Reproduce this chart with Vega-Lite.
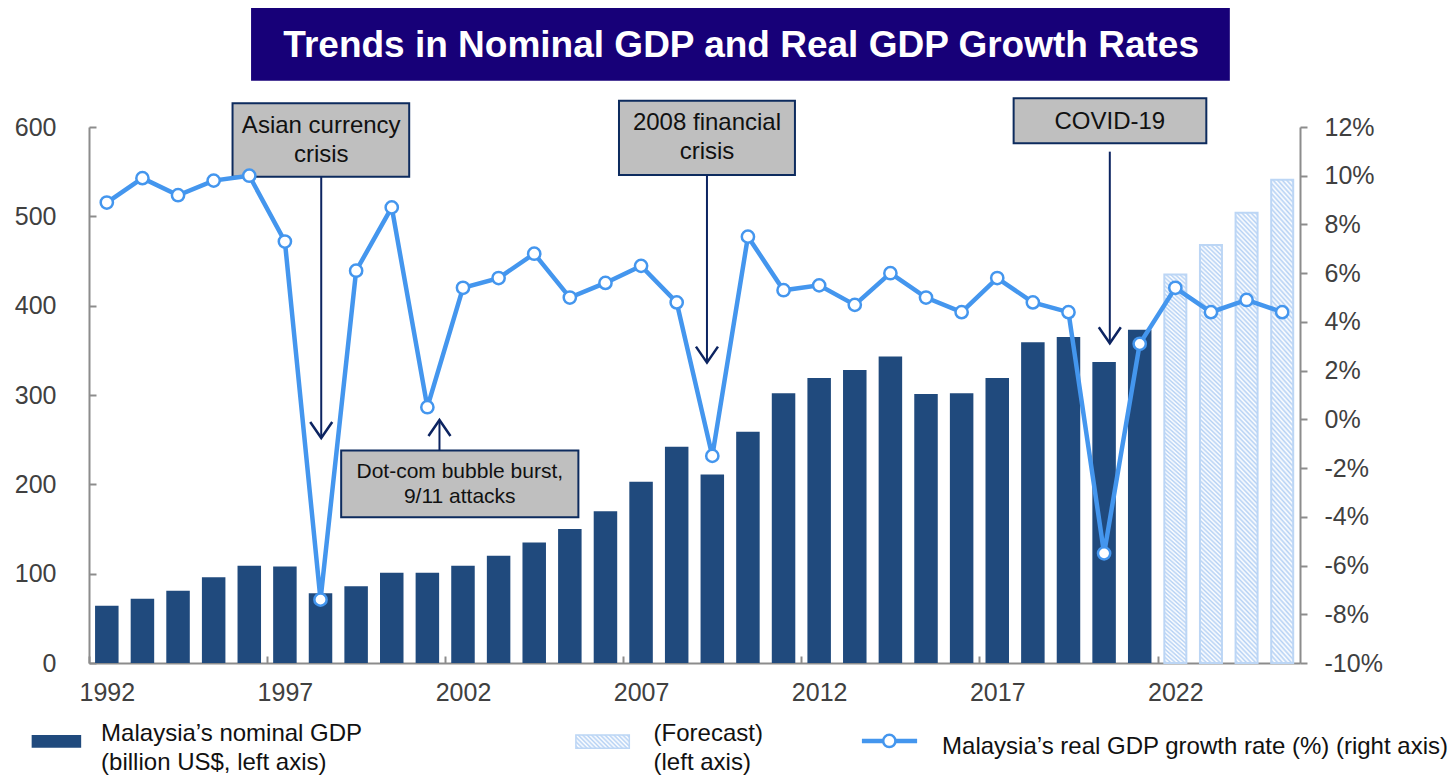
{
  "$schema": "https://vega.github.io/schema/vega-lite/v6.json",
  "width": 1211,
  "height": 536,
  "autosize": {"type": "none"},
  "padding": {"left": 89, "top": 127, "right": 152, "bottom": 112},
  "background": "white",
  "config": {
    "view": {"stroke": null},
    "font": "Liberation Sans",
    "scale": {"continuousPadding": 0},
    "axis": {
      "grid": false,
      "domainColor": "#8c8c8c",
      "domainWidth": 2,
      "tickColor": "#8c8c8c",
      "tickWidth": 2,
      "labelColor": "#404040",
      "labelFont": "Liberation Sans",
      "labelFontSize": 25
    }
  },
  "data": {
    "values": [
      {"year": 1992, "gdp": 64, "growth": 8.9, "type": "Actual"},
      {"year": 1993, "gdp": 72, "growth": 9.9, "type": "Actual"},
      {"year": 1994, "gdp": 81, "growth": 9.2, "type": "Actual"},
      {"year": 1995, "gdp": 96, "growth": 9.8, "type": "Actual"},
      {"year": 1996, "gdp": 109, "growth": 10.0, "type": "Actual"},
      {"year": 1997, "gdp": 108, "growth": 7.3, "type": "Actual"},
      {"year": 1998, "gdp": 78, "growth": -7.4, "type": "Actual"},
      {"year": 1999, "gdp": 86, "growth": 6.1, "type": "Actual"},
      {"year": 2000, "gdp": 101, "growth": 8.7, "type": "Actual"},
      {"year": 2001, "gdp": 101, "growth": 0.5, "type": "Actual"},
      {"year": 2002, "gdp": 109, "growth": 5.4, "type": "Actual"},
      {"year": 2003, "gdp": 120, "growth": 5.8, "type": "Actual"},
      {"year": 2004, "gdp": 135, "growth": 6.8, "type": "Actual"},
      {"year": 2005, "gdp": 150, "growth": 5.0, "type": "Actual"},
      {"year": 2006, "gdp": 170, "growth": 5.6, "type": "Actual"},
      {"year": 2007, "gdp": 203, "growth": 6.3, "type": "Actual"},
      {"year": 2008, "gdp": 242, "growth": 4.8, "type": "Actual"},
      {"year": 2009, "gdp": 211, "growth": -1.5, "type": "Actual"},
      {"year": 2010, "gdp": 259, "growth": 7.5, "type": "Actual"},
      {"year": 2011, "gdp": 302, "growth": 5.3, "type": "Actual"},
      {"year": 2012, "gdp": 319, "growth": 5.5, "type": "Actual"},
      {"year": 2013, "gdp": 328, "growth": 4.7, "type": "Actual"},
      {"year": 2014, "gdp": 343, "growth": 6.0, "type": "Actual"},
      {"year": 2015, "gdp": 301, "growth": 5.0, "type": "Actual"},
      {"year": 2016, "gdp": 302, "growth": 4.4, "type": "Actual"},
      {"year": 2017, "gdp": 319, "growth": 5.8, "type": "Actual"},
      {"year": 2018, "gdp": 359, "growth": 4.8, "type": "Actual"},
      {"year": 2019, "gdp": 365, "growth": 4.4, "type": "Actual"},
      {"year": 2020, "gdp": 337, "growth": -5.5, "type": "Actual"},
      {"year": 2021, "gdp": 373, "growth": 3.1, "type": "Actual"},
      {"year": 2022, "gdp": 435, "growth": 5.4, "type": "Forecast"},
      {"year": 2023, "gdp": 468, "growth": 4.4, "type": "Forecast"},
      {"year": 2024, "gdp": 504, "growth": 4.9, "type": "Forecast"},
      {"year": 2025, "gdp": 541, "growth": 4.4, "type": "Forecast"}
    ]
  },
  "layer": [
    {
      "layer": [
        {
          "transform": [{"filter": "datum.type == 'Actual'"}],
          "mark": {"type": "bar", "width": 23.5, "fill": "#204a7d"},
          "encoding": {
            "x": {
              "field": "year", "type": "quantitative", "title": null,
              "scale": {"domain": [1991.5, 2025.5], "nice": false, "zero": false, "padding": 0},
              "axis": {
                "values": [1992, 1997, 2002, 2007, 2012, 2017, 2022],
                "format": "d",
                "tickSize": -7,
                "tickOffset": -17.8,
                "labelOffset": 17.8,
                "labelPadding": 24,
                "labelFlush": false
              }
            },
            "y": {
              "field": "gdp", "type": "quantitative", "title": null,
              "scale": {"domain": [0, 600], "nice": false, "padding": 0},
              "axis": {
                "values": [0, 100, 200, 300, 400, 500, 600],
                "tickSize": -7,
                "labelPadding": 40
              }
            }
          }
        },
        {
          "transform": [{"filter": "datum.type == 'Forecast'"}],
          "mark": {
            "type": "bar", "width": 22, "stroke": "#bcd6f5", "strokeWidth": 2,
            "fill": {
              "gradient": "linear", "x1": 1, "y1": 0, "x2": 0.947, "y2": 1.0479,
              "stops": [
                {"offset": 0, "color": "#ffffff"}, {"offset": 0.005, "color": "#b5d1f4"},
                {"offset": 0.01, "color": "#ffffff"}, {"offset": 0.015, "color": "#b5d1f4"},
                {"offset": 0.02, "color": "#ffffff"}, {"offset": 0.025, "color": "#b5d1f4"},
                {"offset": 0.03, "color": "#ffffff"}, {"offset": 0.035, "color": "#b5d1f4"},
                {"offset": 0.04, "color": "#ffffff"}, {"offset": 0.045, "color": "#b5d1f4"},
                {"offset": 0.05, "color": "#ffffff"}, {"offset": 0.055, "color": "#b5d1f4"},
                {"offset": 0.06, "color": "#ffffff"}, {"offset": 0.065, "color": "#b5d1f4"},
                {"offset": 0.07, "color": "#ffffff"}, {"offset": 0.075, "color": "#b5d1f4"},
                {"offset": 0.08, "color": "#ffffff"}, {"offset": 0.085, "color": "#b5d1f4"},
                {"offset": 0.09, "color": "#ffffff"}, {"offset": 0.095, "color": "#b5d1f4"},
                {"offset": 0.10, "color": "#ffffff"}, {"offset": 0.105, "color": "#b5d1f4"},
                {"offset": 0.11, "color": "#ffffff"}, {"offset": 0.115, "color": "#b5d1f4"},
                {"offset": 0.12, "color": "#ffffff"}, {"offset": 0.125, "color": "#b5d1f4"},
                {"offset": 0.13, "color": "#ffffff"}, {"offset": 0.135, "color": "#b5d1f4"},
                {"offset": 0.14, "color": "#ffffff"}, {"offset": 0.145, "color": "#b5d1f4"},
                {"offset": 0.15, "color": "#ffffff"}, {"offset": 0.155, "color": "#b5d1f4"},
                {"offset": 0.16, "color": "#ffffff"}, {"offset": 0.165, "color": "#b5d1f4"},
                {"offset": 0.17, "color": "#ffffff"}, {"offset": 0.175, "color": "#b5d1f4"},
                {"offset": 0.18, "color": "#ffffff"}, {"offset": 0.185, "color": "#b5d1f4"},
                {"offset": 0.19, "color": "#ffffff"}, {"offset": 0.195, "color": "#b5d1f4"},
                {"offset": 0.20, "color": "#ffffff"}, {"offset": 0.205, "color": "#b5d1f4"},
                {"offset": 0.21, "color": "#ffffff"}, {"offset": 0.215, "color": "#b5d1f4"},
                {"offset": 0.22, "color": "#ffffff"}, {"offset": 0.225, "color": "#b5d1f4"},
                {"offset": 0.23, "color": "#ffffff"}, {"offset": 0.235, "color": "#b5d1f4"},
                {"offset": 0.24, "color": "#ffffff"}, {"offset": 0.245, "color": "#b5d1f4"},
                {"offset": 0.25, "color": "#ffffff"}, {"offset": 0.255, "color": "#b5d1f4"},
                {"offset": 0.26, "color": "#ffffff"}, {"offset": 0.265, "color": "#b5d1f4"},
                {"offset": 0.27, "color": "#ffffff"}, {"offset": 0.275, "color": "#b5d1f4"},
                {"offset": 0.28, "color": "#ffffff"}, {"offset": 0.285, "color": "#b5d1f4"},
                {"offset": 0.29, "color": "#ffffff"}, {"offset": 0.295, "color": "#b5d1f4"},
                {"offset": 0.30, "color": "#ffffff"}, {"offset": 0.305, "color": "#b5d1f4"},
                {"offset": 0.31, "color": "#ffffff"}, {"offset": 0.315, "color": "#b5d1f4"},
                {"offset": 0.32, "color": "#ffffff"}, {"offset": 0.325, "color": "#b5d1f4"},
                {"offset": 0.33, "color": "#ffffff"}, {"offset": 0.335, "color": "#b5d1f4"},
                {"offset": 0.34, "color": "#ffffff"}, {"offset": 0.345, "color": "#b5d1f4"},
                {"offset": 0.35, "color": "#ffffff"}, {"offset": 0.355, "color": "#b5d1f4"},
                {"offset": 0.36, "color": "#ffffff"}, {"offset": 0.365, "color": "#b5d1f4"},
                {"offset": 0.37, "color": "#ffffff"}, {"offset": 0.375, "color": "#b5d1f4"},
                {"offset": 0.38, "color": "#ffffff"}, {"offset": 0.385, "color": "#b5d1f4"},
                {"offset": 0.39, "color": "#ffffff"}, {"offset": 0.395, "color": "#b5d1f4"},
                {"offset": 0.40, "color": "#ffffff"}, {"offset": 0.405, "color": "#b5d1f4"},
                {"offset": 0.41, "color": "#ffffff"}, {"offset": 0.415, "color": "#b5d1f4"},
                {"offset": 0.42, "color": "#ffffff"}, {"offset": 0.425, "color": "#b5d1f4"},
                {"offset": 0.43, "color": "#ffffff"}, {"offset": 0.435, "color": "#b5d1f4"},
                {"offset": 0.44, "color": "#ffffff"}, {"offset": 0.445, "color": "#b5d1f4"},
                {"offset": 0.45, "color": "#ffffff"}, {"offset": 0.455, "color": "#b5d1f4"},
                {"offset": 0.46, "color": "#ffffff"}, {"offset": 0.465, "color": "#b5d1f4"},
                {"offset": 0.47, "color": "#ffffff"}, {"offset": 0.475, "color": "#b5d1f4"},
                {"offset": 0.48, "color": "#ffffff"}, {"offset": 0.485, "color": "#b5d1f4"},
                {"offset": 0.49, "color": "#ffffff"}, {"offset": 0.495, "color": "#b5d1f4"},
                {"offset": 0.50, "color": "#ffffff"}, {"offset": 0.505, "color": "#b5d1f4"},
                {"offset": 0.51, "color": "#ffffff"}, {"offset": 0.515, "color": "#b5d1f4"},
                {"offset": 0.52, "color": "#ffffff"}, {"offset": 0.525, "color": "#b5d1f4"},
                {"offset": 0.53, "color": "#ffffff"}, {"offset": 0.535, "color": "#b5d1f4"},
                {"offset": 0.54, "color": "#ffffff"}, {"offset": 0.545, "color": "#b5d1f4"},
                {"offset": 0.55, "color": "#ffffff"}, {"offset": 0.555, "color": "#b5d1f4"},
                {"offset": 0.56, "color": "#ffffff"}, {"offset": 0.565, "color": "#b5d1f4"},
                {"offset": 0.57, "color": "#ffffff"}, {"offset": 0.575, "color": "#b5d1f4"},
                {"offset": 0.58, "color": "#ffffff"}, {"offset": 0.585, "color": "#b5d1f4"},
                {"offset": 0.59, "color": "#ffffff"}, {"offset": 0.595, "color": "#b5d1f4"},
                {"offset": 0.60, "color": "#ffffff"}, {"offset": 0.605, "color": "#b5d1f4"},
                {"offset": 0.61, "color": "#ffffff"}, {"offset": 0.615, "color": "#b5d1f4"},
                {"offset": 0.62, "color": "#ffffff"}, {"offset": 0.625, "color": "#b5d1f4"},
                {"offset": 0.63, "color": "#ffffff"}, {"offset": 0.635, "color": "#b5d1f4"},
                {"offset": 0.64, "color": "#ffffff"}, {"offset": 0.645, "color": "#b5d1f4"},
                {"offset": 0.65, "color": "#ffffff"}, {"offset": 0.655, "color": "#b5d1f4"},
                {"offset": 0.66, "color": "#ffffff"}, {"offset": 0.665, "color": "#b5d1f4"},
                {"offset": 0.67, "color": "#ffffff"}, {"offset": 0.675, "color": "#b5d1f4"},
                {"offset": 0.68, "color": "#ffffff"}, {"offset": 0.685, "color": "#b5d1f4"},
                {"offset": 0.69, "color": "#ffffff"}, {"offset": 0.695, "color": "#b5d1f4"},
                {"offset": 0.70, "color": "#ffffff"}, {"offset": 0.705, "color": "#b5d1f4"},
                {"offset": 0.71, "color": "#ffffff"}, {"offset": 0.715, "color": "#b5d1f4"},
                {"offset": 0.72, "color": "#ffffff"}, {"offset": 0.725, "color": "#b5d1f4"},
                {"offset": 0.73, "color": "#ffffff"}, {"offset": 0.735, "color": "#b5d1f4"},
                {"offset": 0.74, "color": "#ffffff"}, {"offset": 0.745, "color": "#b5d1f4"},
                {"offset": 0.75, "color": "#ffffff"}, {"offset": 0.755, "color": "#b5d1f4"},
                {"offset": 0.76, "color": "#ffffff"}, {"offset": 0.765, "color": "#b5d1f4"},
                {"offset": 0.77, "color": "#ffffff"}, {"offset": 0.775, "color": "#b5d1f4"},
                {"offset": 0.78, "color": "#ffffff"}, {"offset": 0.785, "color": "#b5d1f4"},
                {"offset": 0.79, "color": "#ffffff"}, {"offset": 0.795, "color": "#b5d1f4"},
                {"offset": 0.80, "color": "#ffffff"}, {"offset": 0.805, "color": "#b5d1f4"},
                {"offset": 0.81, "color": "#ffffff"}, {"offset": 0.815, "color": "#b5d1f4"},
                {"offset": 0.82, "color": "#ffffff"}, {"offset": 0.825, "color": "#b5d1f4"},
                {"offset": 0.83, "color": "#ffffff"}, {"offset": 0.835, "color": "#b5d1f4"},
                {"offset": 0.84, "color": "#ffffff"}, {"offset": 0.845, "color": "#b5d1f4"},
                {"offset": 0.85, "color": "#ffffff"}, {"offset": 0.855, "color": "#b5d1f4"},
                {"offset": 0.86, "color": "#ffffff"}, {"offset": 0.865, "color": "#b5d1f4"},
                {"offset": 0.87, "color": "#ffffff"}, {"offset": 0.875, "color": "#b5d1f4"},
                {"offset": 0.88, "color": "#ffffff"}, {"offset": 0.885, "color": "#b5d1f4"},
                {"offset": 0.89, "color": "#ffffff"}, {"offset": 0.895, "color": "#b5d1f4"},
                {"offset": 0.90, "color": "#ffffff"}, {"offset": 0.905, "color": "#b5d1f4"},
                {"offset": 0.91, "color": "#ffffff"}, {"offset": 0.915, "color": "#b5d1f4"},
                {"offset": 0.92, "color": "#ffffff"}, {"offset": 0.925, "color": "#b5d1f4"},
                {"offset": 0.93, "color": "#ffffff"}, {"offset": 0.935, "color": "#b5d1f4"},
                {"offset": 0.94, "color": "#ffffff"}, {"offset": 0.945, "color": "#b5d1f4"},
                {"offset": 0.95, "color": "#ffffff"}, {"offset": 0.955, "color": "#b5d1f4"},
                {"offset": 0.96, "color": "#ffffff"}, {"offset": 0.965, "color": "#b5d1f4"},
                {"offset": 0.97, "color": "#ffffff"}, {"offset": 0.975, "color": "#b5d1f4"},
                {"offset": 0.98, "color": "#ffffff"}, {"offset": 0.985, "color": "#b5d1f4"},
                {"offset": 0.99, "color": "#ffffff"}, {"offset": 0.995, "color": "#b5d1f4"},
                {"offset": 1, "color": "#ffffff"}
              ]
            }
          },
          "encoding": {
            "x": {"field": "year", "type": "quantitative", "title": null},
            "y": {"field": "gdp", "type": "quantitative", "title": null}
          }
        },
        {
          "data": {"values": [{}]},
          "mark": {"type": "rect", "fill": "#170078"},
          "encoding": {"x": {"datum": 1996.05}, "x2": {"datum": 2023.53}, "y": {"datum": 733.2}, "y2": {"datum": 651.8}}
        },
        {
          "data": {"values": [{}]},
          "mark": {"type": "text", "text": "Trends in Nominal GDP and Real GDP Growth Rates", "fontSize": 37, "fontWeight": "bold", "color": "white", "align": "center", "baseline": "middle"},
          "encoding": {"x": {"datum": 2009.81}, "y": {"datum": 691.2}}
        },
        {
          "data": {"values": [{}]},
          "mark": {"type": "rect", "fill": "#bfbfbf", "stroke": "#0d2b5e", "strokeWidth": 2},
          "encoding": {"x": {"datum": 1995.53}, "x2": {"datum": 2000.49}, "y": {"datum": 626.5}, "y2": {"datum": 544.4}}
        },
        {
          "data": {"values": [{}]},
          "mark": {"type": "rect", "fill": "#bfbfbf", "stroke": "#0d2b5e", "strokeWidth": 2},
          "encoding": {"x": {"datum": 1998.58}, "x2": {"datum": 2005.24}, "y": {"datum": 237.9}, "y2": {"datum": 163.1}}
        },
        {
          "data": {"values": [{}]},
          "mark": {"type": "rect", "fill": "#bfbfbf", "stroke": "#0d2b5e", "strokeWidth": 2},
          "encoding": {"x": {"datum": 2006.38}, "x2": {"datum": 2011.32}, "y": {"datum": 629.4}, "y2": {"datum": 546.3}}
        },
        {
          "data": {"values": [{}]},
          "mark": {"type": "rect", "fill": "#bfbfbf", "stroke": "#0d2b5e", "strokeWidth": 2},
          "encoding": {"x": {"datum": 2017.46}, "x2": {"datum": 2022.87}, "y": {"datum": 632.1}, "y2": {"datum": 581.8}}
        },
        {
          "data": {"values": [{}]},
          "mark": {"type": "text", "text": ["Asian currency", "crisis"], "fontSize": 24, "lineHeight": 29, "color": "#111111", "align": "center", "baseline": "middle"},
          "encoding": {"x": {"datum": 1998.02}, "y": {"datum": 601.1}}
        },
        {
          "data": {"values": [{}]},
          "mark": {"type": "text", "text": ["Dot-com bubble burst,", "9/11 attacks"], "fontSize": 21, "lineHeight": 25, "color": "#111111", "align": "center", "baseline": "middle"},
          "encoding": {"x": {"datum": 2001.91}, "y": {"datum": 213.5}}
        },
        {
          "data": {"values": [{}]},
          "mark": {"type": "text", "text": ["2008 financial", "crisis"], "fontSize": 24, "lineHeight": 28.5, "color": "#111111", "align": "center", "baseline": "middle"},
          "encoding": {"x": {"datum": 2008.85}, "y": {"datum": 604.1}}
        },
        {
          "data": {"values": [{}]},
          "mark": {"type": "text", "text": "COVID-19", "fontSize": 24, "color": "#111111", "align": "center", "baseline": "middle"},
          "encoding": {"x": {"datum": 2020.16}, "y": {"datum": 606}}
        },
        {
          "data": {"values": [{}]},
          "mark": {"type": "rule", "stroke": "#0c2461", "strokeWidth": 2},
          "encoding": {"x": {"datum": 1998.02}, "y": {"datum": 544.4}, "y2": {"datum": 251.9}}
        },
        {
          "data": {"values": [{}]},
          "mark": {"type": "rule", "stroke": "#0c2461", "strokeWidth": 2},
          "encoding": {"x": {"datum": 2001.34}, "y": {"datum": 272.0}, "y2": {"datum": 237.9}}
        },
        {
          "data": {"values": [{}]},
          "mark": {"type": "rule", "stroke": "#0c2461", "strokeWidth": 2},
          "encoding": {"x": {"datum": 2008.85}, "y": {"datum": 546.3}, "y2": {"datum": 336.2}}
        },
        {
          "data": {"values": [{}]},
          "mark": {"type": "rule", "stroke": "#0c2461", "strokeWidth": 2},
          "encoding": {"x": {"datum": 2020.16}, "y": {"datum": 572.4}, "y2": {"datum": 357.9}}
        },
        {
          "data": {"values": [{}]},
          "mark": {"type": "point", "shape": "M -0.6875 -1 L 0 0 L 0.6875 -1", "filled": false, "size": 1024, "stroke": "#0c2461", "strokeWidth": 2.5, "opacity": 1},
          "encoding": {"x": {"datum": 1998.02}, "y": {"datum": 251.9}}
        },
        {
          "data": {"values": [{}]},
          "mark": {"type": "point", "shape": "M -0.6875 1 L 0 0 L 0.6875 1", "filled": false, "size": 1024, "stroke": "#0c2461", "strokeWidth": 2.5, "opacity": 1},
          "encoding": {"x": {"datum": 2001.34}, "y": {"datum": 272.0}}
        },
        {
          "data": {"values": [{}]},
          "mark": {"type": "point", "shape": "M -0.6875 -1 L 0 0 L 0.6875 -1", "filled": false, "size": 1024, "stroke": "#0c2461", "strokeWidth": 2.5, "opacity": 1},
          "encoding": {"x": {"datum": 2008.85}, "y": {"datum": 336.2}}
        },
        {
          "data": {"values": [{}]},
          "mark": {"type": "point", "shape": "M -0.6875 -1 L 0 0 L 0.6875 -1", "filled": false, "size": 1024, "stroke": "#0c2461", "strokeWidth": 2.5, "opacity": 1},
          "encoding": {"x": {"datum": 2020.16}, "y": {"datum": 357.9}}
        },
        {
          "data": {"values": [{}]},
          "mark": {"type": "rect", "fill": "#204a7d"},
          "encoding": {"x": {"datum": 1989.89}, "x2": {"datum": 1991.28}, "y": {"datum": -80.6}, "y2": {"datum": -94.8}}
        },
        {
          "data": {"values": [{}]},
          "mark": {"type": "text", "text": ["Malaysia’s nominal GDP", "(billion US$, left axis)"], "fontSize": 24, "lineHeight": 29, "color": "#111111", "align": "left", "baseline": "middle"},
          "encoding": {"x": {"datum": 1991.84}, "y": {"datum": -80.0}}
        },
        {
          "data": {"values": [{}]},
          "mark": {
            "type": "rect", "stroke": "#bcd6f5", "strokeWidth": 1.5,
            "fill": {
              "gradient": "linear", "x1": 1, "y1": 0, "x2": -0.176, "y2": 0.2935,
              "stops": [
                {"offset": 0, "color": "#ffffff"}, {"offset": 0.0333, "color": "#b5d1f4"},
                {"offset": 0.0667, "color": "#ffffff"}, {"offset": 0.1, "color": "#b5d1f4"},
                {"offset": 0.1333, "color": "#ffffff"}, {"offset": 0.1667, "color": "#b5d1f4"},
                {"offset": 0.2, "color": "#ffffff"}, {"offset": 0.2333, "color": "#b5d1f4"},
                {"offset": 0.2667, "color": "#ffffff"}, {"offset": 0.3, "color": "#b5d1f4"},
                {"offset": 0.3333, "color": "#ffffff"}, {"offset": 0.3667, "color": "#b5d1f4"},
                {"offset": 0.4, "color": "#ffffff"}, {"offset": 0.4333, "color": "#b5d1f4"},
                {"offset": 0.4667, "color": "#ffffff"}, {"offset": 0.5, "color": "#b5d1f4"},
                {"offset": 0.5333, "color": "#ffffff"}, {"offset": 0.5667, "color": "#b5d1f4"},
                {"offset": 0.6, "color": "#ffffff"}, {"offset": 0.6333, "color": "#b5d1f4"},
                {"offset": 0.6667, "color": "#ffffff"}, {"offset": 0.7, "color": "#b5d1f4"},
                {"offset": 0.7333, "color": "#ffffff"}, {"offset": 0.7667, "color": "#b5d1f4"},
                {"offset": 0.8, "color": "#ffffff"}, {"offset": 0.8333, "color": "#b5d1f4"},
                {"offset": 0.8667, "color": "#ffffff"}, {"offset": 0.9, "color": "#b5d1f4"},
                {"offset": 0.9333, "color": "#ffffff"}, {"offset": 0.9667, "color": "#b5d1f4"},
                {"offset": 1, "color": "#ffffff"}
              ]
            }
          },
          "encoding": {"x": {"datum": 2005.17}, "x2": {"datum": 2006.67}, "y": {"datum": -80.6}, "y2": {"datum": -95.5}}
        },
        {
          "data": {"values": [{}]},
          "mark": {"type": "text", "text": ["(Forecast)", "(left axis)"], "fontSize": 24, "lineHeight": 29, "color": "#111111", "align": "left", "baseline": "middle"},
          "encoding": {"x": {"datum": 2007.35}, "y": {"datum": -80.0}}
        },
        {
          "data": {"values": [{}]},
          "mark": {"type": "rule", "stroke": "#4496ee", "strokeWidth": 4.5},
          "encoding": {"x": {"datum": 2013.2}, "x2": {"datum": 2014.75}, "y": {"datum": -87.3}}
        },
        {
          "data": {"values": [{}]},
          "mark": {"type": "point", "shape": "circle", "filled": true, "fill": "white", "stroke": "#4496ee", "strokeWidth": 2.5, "size": 150, "opacity": 1},
          "encoding": {"x": {"datum": 2013.97}, "y": {"datum": -87.3}}
        },
        {
          "data": {"values": [{}]},
          "mark": {"type": "text", "text": "Malaysia’s real GDP growth rate (%) (right axis)", "fontSize": 24, "color": "#111111", "align": "left", "baseline": "middle"},
          "encoding": {"x": {"datum": 2015.45}, "y": {"datum": -93.7}}
        }
      ]
    },
    {
      "layer": [
        {
          "mark": {"type": "line", "stroke": "#4496ee", "strokeWidth": 4.5},
          "encoding": {
            "x": {"field": "year", "type": "quantitative", "title": null},
            "y": {
              "field": "growth", "type": "quantitative", "title": null,
              "scale": {"domain": [-10, 12], "nice": false, "zero": false, "padding": 0},
              "axis": {
                "orient": "right",
                "values": [-10, -8, -6, -4, -2, 0, 2, 4, 6, 8, 10, 12],
                "labelExpr": "datum.value + '%'",
                "tickSize": 7,
                "labelPadding": 17
              }
            }
          }
        },
        {
          "mark": {"type": "point", "shape": "circle", "filled": true, "fill": "white", "stroke": "#4496ee", "strokeWidth": 2.5, "size": 150, "opacity": 1},
          "encoding": {
            "x": {"field": "year", "type": "quantitative", "title": null},
            "y": {"field": "growth", "type": "quantitative", "title": null}
          }
        }
      ]
    }
  ],
  "resolve": {"scale": {"y": "independent"}}
}
